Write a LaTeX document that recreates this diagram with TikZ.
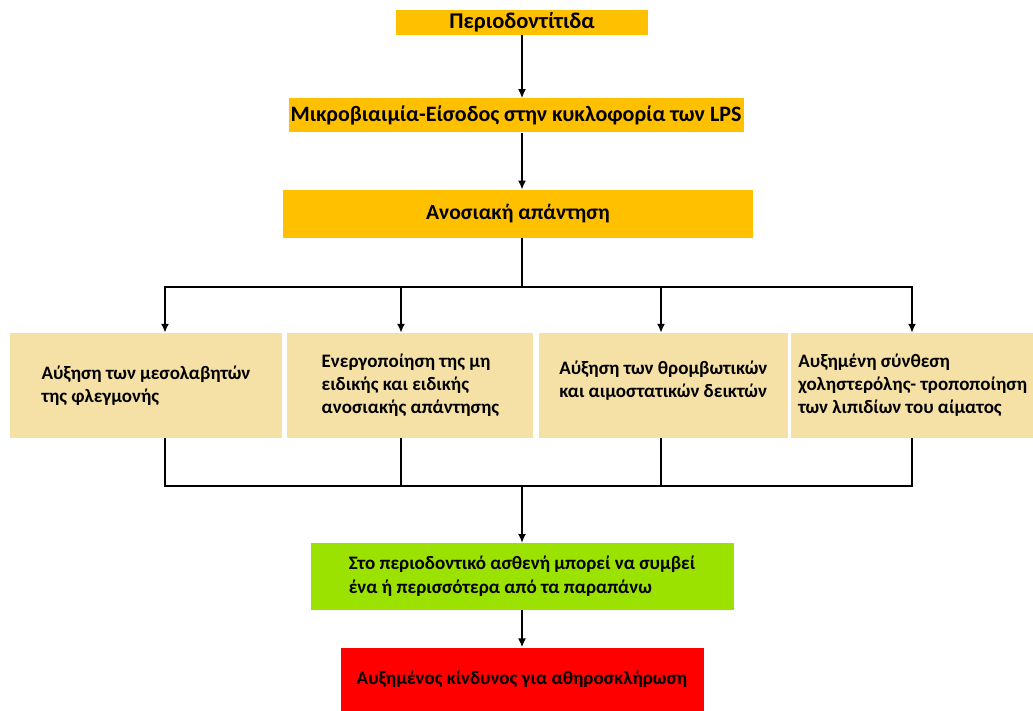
\documentclass[tikz,border=0pt]{standalone}
\usepackage{fontspec}
\setmainfont{Carlito}
\usetikzlibrary{positioning,arrows.meta}
\definecolor{goldbox}{RGB}{255,192,0}
\definecolor{wheatbox}{RGB}{245,225,165}
\definecolor{limebox}{RGB}{155,226,0}
\definecolor{redbox}{RGB}{255,0,0}
\tikzset{
  line/.style={-{Latex[length=9pt,width=8pt]}, line width=2pt},
  wire/.style={line width=2.4pt},
  box/.style={inner sep=0pt, align=center, font=\bfseries\fontsize{22}{26}\selectfont},
  topbox/.style={box, fill=goldbox},
  effbox/.style={box, fill=wheatbox, align=left, minimum height=105pt,
    font=\bfseries\fontsize{19}{23}\selectfont},
  endbox/.style={box, align=left, font=\bfseries\fontsize{19}{24}\selectfont}
}

\begin{document}
\begin{tikzpicture}[x=1pt, y=1pt]
  \useasboundingbox (0,0) rectangle (1033,-711);

  \node[topbox, minimum width=252pt, minimum height=25pt, font=\bfseries\fontsize{22.5}{26}\selectfont] (perio) at (522,-22.5) {Περιοδοντίτιδα};
  \node[topbox, minimum width=455pt, minimum height=34pt, below=63pt of perio, xshift=-6pt] (lps) {Μικροβιαιμία-Είσοδος στην κυκλοφορία των LPS};
  \node[topbox, minimum width=470pt, minimum height=48pt, below=57pt of lps, xshift=2pt, font=\bfseries\fontsize{21.5}{26}\selectfont] (immune) {Ανοσιακή απάντηση};

  % four effects
  \node[effbox, minimum width=272pt] (infl) at (146,-385.5) {Αύξηση των μεσολαβητών\\της φλεγμονής};
  \node[effbox, minimum width=246pt, right=5pt of infl] (activ) {Ενεργοποίηση της μη\\ειδικής και ειδικής\\ανοσιακής απάντησης};
  \node[effbox, minimum width=249pt, right=5pt of activ] (thromb) {Αύξηση των θρομβωτικών\\και αιμοστατικών δεικτών\\[-11pt]};
  \node[effbox, minimum width=243pt, right=3pt of thromb] (lipid) {Αυξημένη σύνθεση\\χοληστερόλης- τροποποίηση\\των λιπιδίων του αίματος};

  \coordinate (split) at (522,-287);
  \coordinate (merge) at (522,-486);
  \node[endbox, fill=limebox, minimum width=423pt, minimum height=67pt, below=57pt of merge] (patient) {Στο περιοδοντικό ασθενή μπορεί να συμβεί\\ένα ή περισσότερα από τα παραπάνω};
  \node[endbox, fill=redbox, minimum width=363pt, minimum height=64pt, below=37pt of patient] (risk) {Αυξημένος κίνδυνος για αθηροσκλήρωση};

  \draw[line] (perio) -- (perio |- lps.north);
  \draw[line] (perio |- lps.south) -- (perio |- immune.north);
  \draw[wire] (perio |- immune.south) -- (split);

  \foreach \n/\x in {A/165, B/401, C/661, D/912} {
    \coordinate (br\n) at (\x,-287);
    \coordinate (mg\n) at (\x,-486);
  }
  \draw[wire, line cap=rect] (brA) -- (brD);
  \draw[wire, line cap=rect] (mgA) -- (mgD);
  \foreach \n/\e in {A/infl, B/activ, C/thromb, D/lipid} {
    \draw[line] (br\n) -- (br\n |- \e.north);
    \draw[wire] (mg\n |- \e.south) -- (mg\n);
  }

  \draw[line] (merge) -- (patient);
  \draw[line] (patient) -- (risk);
\end{tikzpicture}
\end{document}
